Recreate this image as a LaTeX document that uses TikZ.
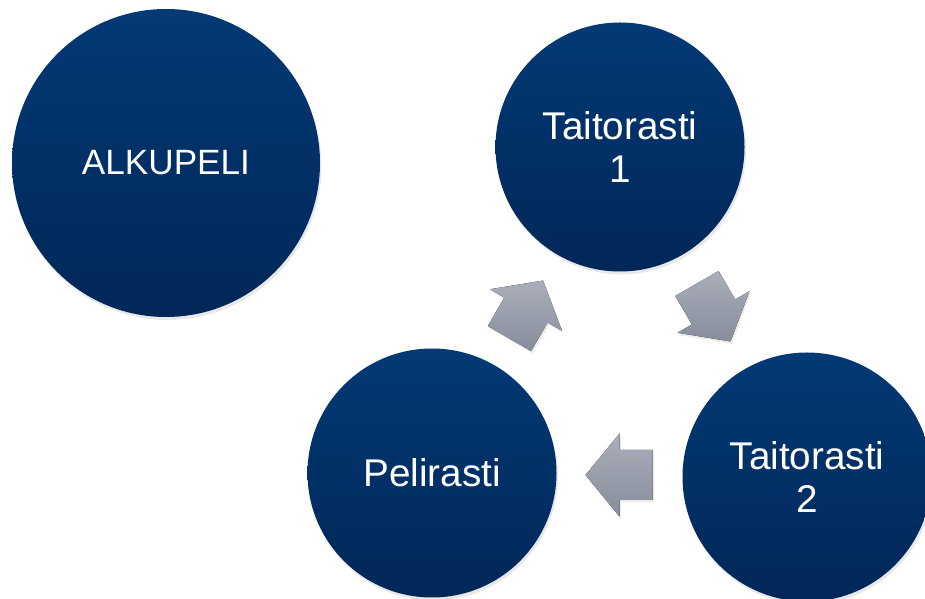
\documentclass[tikz,border=0pt]{standalone}
\usepackage{fontspec}
\setmainfont{Liberation Sans}
\usetikzlibrary{calc, shadows}

\definecolor{rastitop}{RGB}{3,57,117}
\definecolor{rastibot}{RGB}{1,39,88}
\definecolor{nuolitop}{RGB}{170,174,186}
\definecolor{nuolibot}{RGB}{136,141,156}

\begin{document}
\begin{tikzpicture}[
    rasti/.style={circle, minimum size=4.98cm, inner sep=0pt,
        top color=rastitop, bottom color=rastibot,
        text=white, align=center, font=\fontsize{22}{24}\selectfont,
        drop shadow={opacity=0.18, shadow xshift=0.03cm, shadow yshift=-0.06cm}},
    kierto/.style={top color=nuolitop, bottom color=nuolibot,
        drop shadow={opacity=0.15, shadow xshift=0.03cm, shadow yshift=-0.05cm}}
]
    \useasboundingbox (0,0) rectangle (18.5,11.98);

    % Start circle
    \node[rasti, minimum size=6.16cm, font=\fontsize{20}{22}\selectfont] (alku) at (3.32,8.72) {ALKUPELI};

    % Stations of the cycle
    \node[rasti] (taito1) at (12.4,9.04) {Taitorasti\\1};
    \node[rasti] (taito2) at (16.14,2.44) {Taitorasti\\2};
    \node[rasti] (peli) at (8.64,2.52) {Pelirasti};

    % Block arrows between stations
    \foreach \a/\b/\k [count=\i] in {peli/taito1/60, taito1/taito2/-60, taito2/peli/180} {
        \coordinate (nuoli\i) at ($(\a)!0.5!(\b)$);
        \fill[kierto] ($(nuoli\i)+(\k:0.68)$)
            -- ($(nuoli\i)+(\k+90:0.83)$)
            -- ($(nuoli\i)+(\k+90:0.5)$)
            -- ($(nuoli\i)+(\k:-0.66)+(\k+90:0.5)$)
            -- ($(nuoli\i)+(\k:-0.66)+(\k+90:-0.5)$)
            -- ($(nuoli\i)+(\k+90:-0.5)$)
            -- ($(nuoli\i)+(\k+90:-0.83)$)
            -- cycle;
    }
\end{tikzpicture}
\end{document}
